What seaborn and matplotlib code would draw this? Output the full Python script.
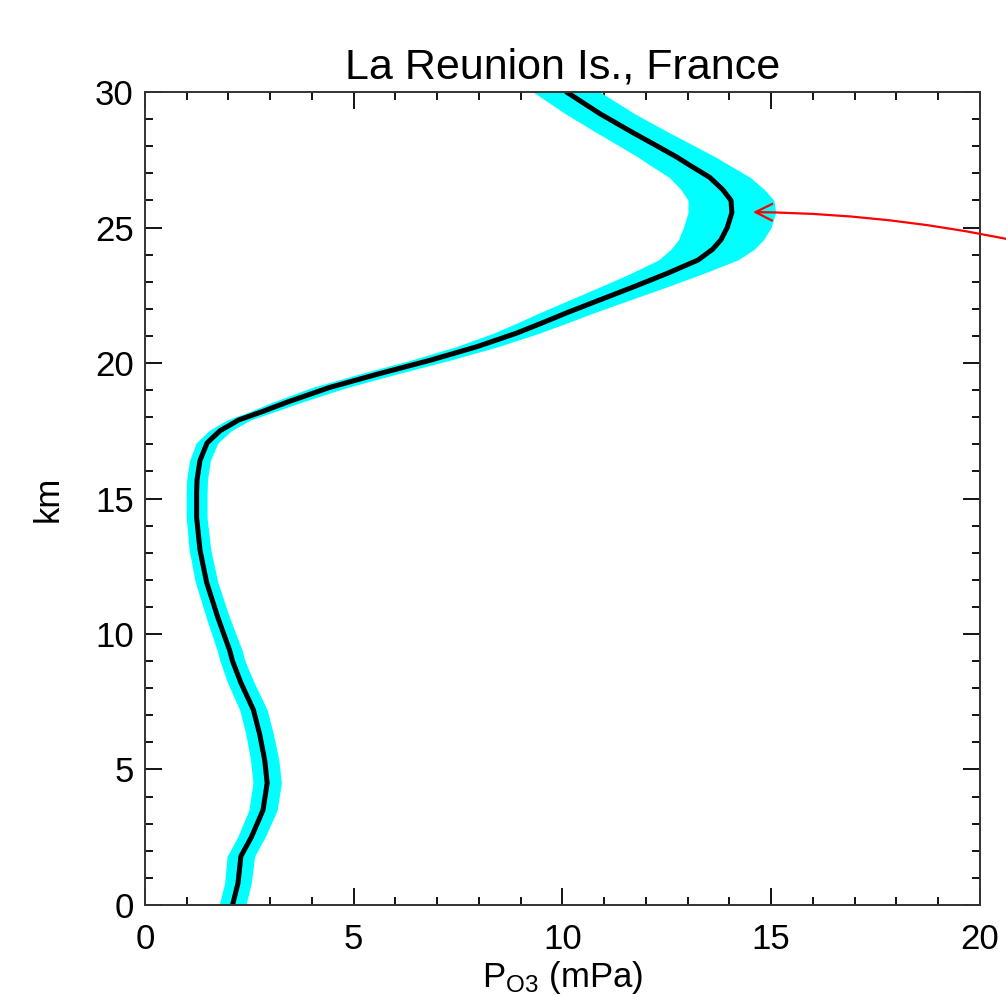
import numpy as np
import pandas as pd
import seaborn as sns
import matplotlib.pyplot as plt
from matplotlib.ticker import MultipleLocator

# altitude (km), mean ozone partial pressure (mPa) and spread of the cyan band
altitude = [0.0, 0.8, 1.8, 2.5, 3.5, 4.5, 5.35, 6.3, 7.2, 8.2, 9.0, 9.4, 10.6,
            11.9, 13.1, 14.3, 15.2, 15.7, 16.4, 17.05, 17.5, 17.9, 18.2, 18.55,
            19.1, 19.6, 20.1, 20.6, 21.1, 21.5, 21.85, 22.3, 22.8, 23.3, 23.8,
            24.2, 24.55, 25.0, 25.55, 26.0, 26.4, 26.85, 27.3, 27.6, 28.05,
            28.5, 29.2, 30.0]
p_o3 = [2.1, 2.23, 2.3, 2.55, 2.83, 2.93, 2.87, 2.75, 2.6, 2.3, 2.1, 2.03, 1.75,
        1.48, 1.32, 1.24, 1.24, 1.25, 1.32, 1.49, 1.8, 2.25, 2.8, 3.4,
        4.43, 5.6, 6.83, 7.95, 8.9, 9.55, 10.1, 10.85, 11.69, 12.5, 13.25,
        13.6, 13.8, 13.95, 14.06, 14.04, 13.84, 13.53, 13.05, 12.74, 12.22,
        11.69, 10.9, 10.1]
spread = [0.32, 0.32, 0.33, 0.33, 0.34, 0.34, 0.34, 0.33, 0.33, 0.32, 0.3, 0.3, 0.28,
          0.27, 0.26, 0.25, 0.25, 0.25, 0.25, 0.26, 0.27, 0.28, 0.3, 0.35,
          0.42, 0.45, 0.47, 0.5, 0.55, 0.6, 0.65, 0.72, 0.8, 0.87, 0.95,
          1.0, 1.02, 1.05, 1.05, 1.03, 1.0, 0.97, 0.95, 0.93, 0.9,
          0.87, 0.83, 0.8]

df = pd.DataFrame({'km': altitude, 'mean': p_o3, 'sd': spread})
df['lo'] = df['mean'] - df['sd']
df['hi'] = df['mean'] + df['sd']

sns.set_style('ticks')
plt.rcParams['font.family'] = ['Liberation Sans', 'DejaVu Sans']
plt.rcParams['mathtext.fontset'] = 'custom'
plt.rcParams['mathtext.rm'] = 'Liberation Sans'
plt.rcParams['mathtext.it'] = 'Liberation Sans'
plt.rcParams['text.color'] = 'black'
plt.rcParams['axes.labelcolor'] = 'black'
plt.rcParams['xtick.color'] = 'black'
plt.rcParams['ytick.color'] = 'black'

fig = plt.figure(figsize=(10.06, 9.97), dpi=100)
ax = fig.add_axes([0.144, 0.0923, 0.830, 0.8154])

ax.fill_betweenx(df['km'], df['lo'], df['hi'], color='#00FFFF', lw=0)
sns.lineplot(data=df, x='mean', y='km', sort=False, estimator=None,
             color='black', lw=3.6, ax=ax, solid_joinstyle='round')

ax.annotate('', xy=(14.5, 25.57), xytext=(22.0, 24.1),
            arrowprops=dict(arrowstyle='->', color='red', lw=1.6,
                            mutation_scale=30,
                            connectionstyle='arc3,rad=0.06'),
            annotation_clip=False)

ax.set_xlim(0, 20)
ax.set_ylim(0, 30)
ax.xaxis.set_major_locator(MultipleLocator(5))
ax.xaxis.set_minor_locator(MultipleLocator(1))
ax.yaxis.set_major_locator(MultipleLocator(5))
ax.yaxis.set_minor_locator(MultipleLocator(1))
ax.tick_params(which='both', direction='in', top=True, right=True,
               width=1.3, color='black')
ax.tick_params(which='major', length=12, labelsize=25)
ax.tick_params(axis='x', which='major', pad=13)
ax.tick_params(axis='y', which='major', pad=8)
ax.tick_params(which='minor', length=6)
for s in ax.spines.values():
    s.set_linewidth(1.4)
    s.set_color('#333333')

ax.set_title('La Reunion Is., France', fontsize=31, pad=10)
ax.set_xlabel(r'P$_{O3}$ (mPa)', fontsize=25, labelpad=2)
ax.set_ylabel('km', fontsize=25, labelpad=22)

fig.savefig('out.png', dpi=100)
